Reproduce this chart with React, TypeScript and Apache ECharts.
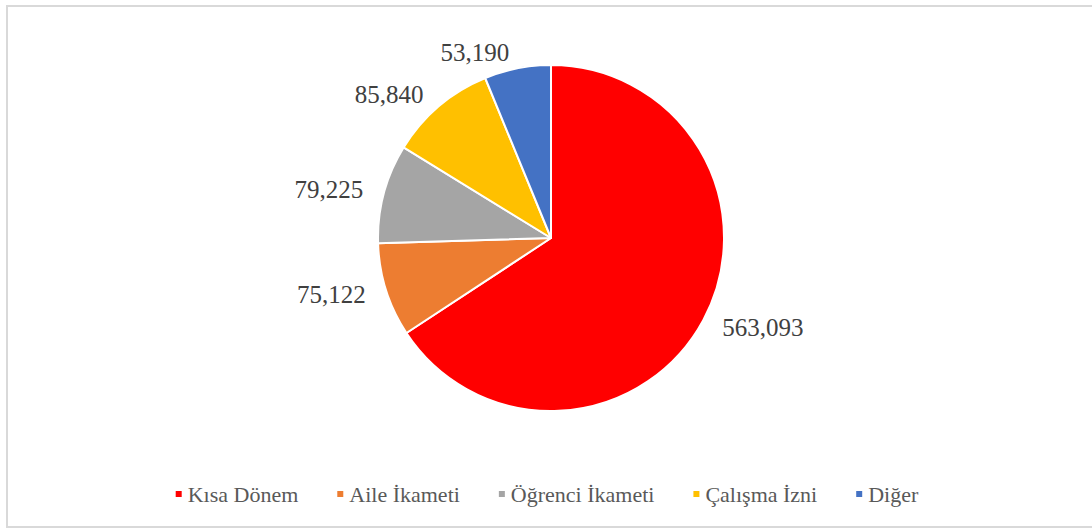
import React, { useEffect, useRef } from "react";
import * as echarts from "echarts";

const categories = ["Kısa Dönem", "Aile İkameti", "Öğrenci İkameti", "Çalışma İzni", "Diğer"];
const values = [563093, 75122, 79225, 85840, 53190];
const colors = ["#FF0000", "#ED7D31", "#A5A5A5", "#FFC000", "#4472C4"];

const FONT = "'Liberation Serif', 'Times New Roman', serif";

export default function App() {
  const ref = useRef<HTMLDivElement>(null);
  useEffect(() => {
    if (!ref.current) return;
    const chart = echarts.init(ref.current, undefined, { renderer: "svg" });
    chart.setOption({
      animation: false,
      backgroundColor: "#ffffff",
      graphic: [
        {
          type: "rect",
          shape: { x: 7, y: 6, width: 1100, height: 521 },
          style: { fill: "none", stroke: "#D9D9D9", lineWidth: 2 },
          silent: true,
        },
      ],
      legend: {
        bottom: 19,
        left: "center",
        itemWidth: 8,
        itemHeight: 8,
        itemGap: 37,
        icon: "rect",
        textStyle: { fontFamily: FONT, fontSize: 22, color: "#595959" },
        data: categories,
      },
      series: [
        {
          type: "pie",
          center: [551, 238],
          radius: 173,
          startAngle: 90,
          clockwise: true,
          avoidLabelOverlap: false,
          itemStyle: { borderColor: "#ffffff", borderWidth: 2 },
          label: {
            show: true,
            position: "outside",
            fontFamily: FONT,
            fontSize: 25,
            color: "#404040",
            formatter: (p: any) => p.value.toLocaleString("en-US"),
          },
          labelLine: { show: false, length: 16, length2: 0 },
          data: categories.map((c, i) => ({ name: c, value: values[i], itemStyle: { color: colors[i] } })),
        },
      ],
    });
    return () => chart.dispose();
  }, []);
  return (
    <div style={{ position: "absolute", left: 0, top: 0, width: 1092, height: 529 }}>
      <div ref={ref} style={{ width: 1092, height: 529 }} />
    </div>
  );
}
